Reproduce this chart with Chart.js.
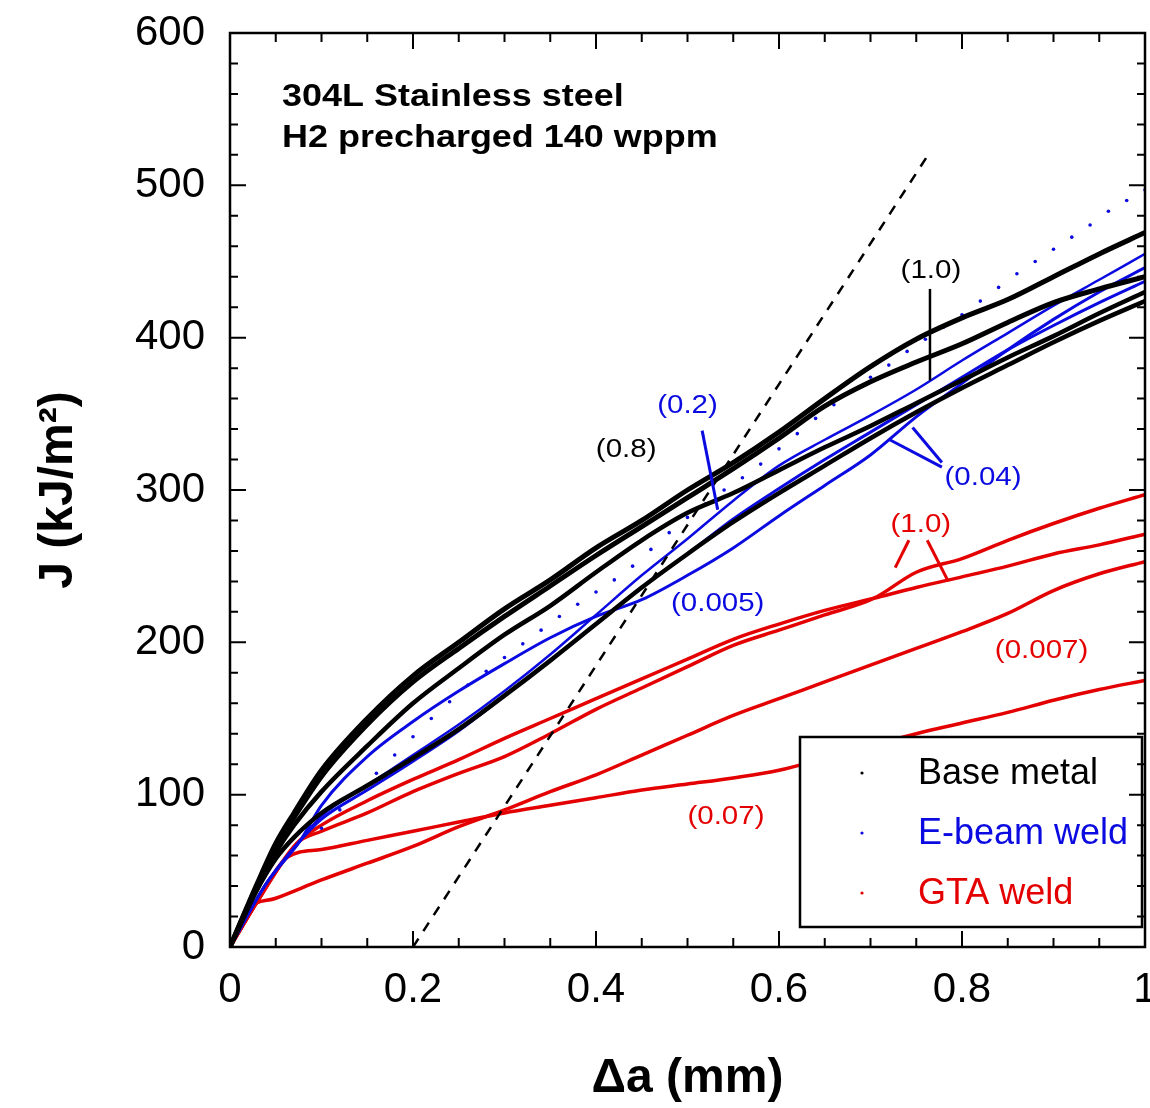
<!DOCTYPE html>
<html>
<head>
<meta charset="utf-8">
<script src="https://cdn.jsdelivr.net/npm/chart.js@4.4.1/dist/chart.umd.min.js"></script>
<style>
  html, body { margin: 0; padding: 0; background: #fff; }
  #wrap { width: 1150px; height: 1108px; }
</style>
</head>
<body>
<div id="wrap"><canvas id="myChart"></canvas></div>
<script>
const FONT = "'Liberation Sans', Arial, Helvetica, sans-serif";
const BLACK = '#000000';
const BLUE = 'rgb(10,10,225)';
const RED = 'rgb(228,0,0)';

// Base metal (black), delta a in mm, J in kJ/m2
const baseDa = [0, 0.03, 0.05, 0.07, 0.1, 0.15, 0.2, 0.25, 0.3, 0.35, 0.4, 0.45, 0.5, 0.55, 0.6, 0.65, 0.7, 0.75, 0.8, 0.85, 0.9, 0.95, 1.0];
const baseJ1 = [0, 42, 68, 88, 116, 150, 178, 200, 222, 241, 262, 280, 300, 318, 338, 360, 381, 399, 413, 425, 440, 455, 469];
const baseJ2 = [0, 41, 66, 85, 112, 146, 174, 196, 217, 237, 257, 276, 295, 314, 334, 355, 371, 384, 396, 410, 423, 432, 440];
const baseJ3 = [0, 40, 62, 80, 102, 132, 160, 183, 205, 224, 246, 267, 285, 298, 313, 328, 342, 357, 372, 387, 401, 416, 430];
const baseJ4 = [0, 38, 58, 72, 88, 106, 124, 143, 165, 188, 212, 236, 258, 279, 298, 316, 334, 351, 367, 382, 397, 411, 424];

// E-beam weld (blue)
const ebDa = [0, 0.04, 0.077, 0.1, 0.15, 0.2, 0.25, 0.3, 0.35, 0.4, 0.45, 0.5, 0.55, 0.6, 0.65, 0.7, 0.75, 0.8, 0.85, 0.9, 0.95, 1.0];
const ebJ005 = [0, 42, 70, 93, 125, 148, 168, 186, 203, 217, 228, 244, 262, 283, 303, 323, 348, 370, 392, 412, 430, 446];
const ebJ04 = [0, 42, 70, 84, 103, 122, 142, 165, 188, 212, 236, 258, 281, 301, 320, 338, 356, 374, 392, 408, 423, 437];
const ebJ2 = [0, 42, 70, 86, 106, 126, 146, 168, 192, 218, 244, 268, 293, 316, 333, 349, 366, 385, 403, 421, 438, 455];

// E-beam dotted fit
const fitDa = [0.10, 0.12, 0.14, 0.16, 0.18, 0.20, 0.22, 0.24, 0.26, 0.28, 0.30, 0.32, 0.34, 0.36, 0.38, 0.40,
  0.42, 0.44, 0.46, 0.48, 0.50, 0.52, 0.54, 0.56, 0.58, 0.60, 0.62, 0.64, 0.66, 0.68, 0.70, 0.72, 0.74,
  0.76, 0.78, 0.80, 0.82, 0.84, 0.86, 0.88, 0.90, 0.92, 0.94, 0.96, 0.98, 1.00];
const fitJ = [78, 90, 102, 114, 126, 138, 150, 161, 172, 181, 190, 199, 208, 217, 225, 233,
  241, 250, 261, 272, 282, 291, 300, 308, 317, 327, 337, 347, 356, 365, 374, 382, 391,
  399, 407, 415, 424, 433, 442, 450, 458, 466, 474, 483, 490, 497];

// GTA weld (red)
const gtaDa = [0, 0.03, 0.073, 0.1, 0.15, 0.2, 0.25, 0.3, 0.35, 0.4, 0.45, 0.5, 0.55, 0.6, 0.65, 0.704, 0.75, 0.8, 0.85, 0.9, 0.95, 1.0];
const gtaJa = [0, 30, 68, 80, 96, 110, 123, 137, 150, 163, 176, 189, 202, 212, 221, 229, 236, 243, 250, 258, 264, 271];
const gtaJb = [0, 30, 68, 76, 88, 102, 114, 125, 140, 156, 170, 184, 198, 208, 218, 229, 246, 255, 267, 278, 288, 297];
const gta007Da = [0, 0.018, 0.05, 0.1, 0.15, 0.2, 0.25, 0.3, 0.35, 0.4, 0.45, 0.5, 0.55, 0.6, 0.65, 0.7, 0.75, 0.8, 0.85, 0.9, 0.95, 1.0];
const gta007J = [0, 24, 32, 44, 55, 66, 79, 90, 102, 113, 126, 139, 152, 163, 174, 185, 196, 207, 219, 234, 245, 253];
const gta07Da = [0, 0.03, 0.063, 0.1, 0.15, 0.2, 0.25, 0.3, 0.35, 0.4, 0.45, 0.5, 0.55, 0.6, 0.65, 0.7, 0.75, 0.8, 0.85, 0.9, 0.95, 1.0];
const gta07J = [0, 30, 59, 64, 70, 76, 82, 88, 93, 98, 103, 107, 111, 116, 124, 132, 140, 147, 154, 162, 169, 175];

// blunting line
const bluntDa = [0.2, 0.763];
const bluntJ = [0, 520];

// labels on the curves
const noteText = ['(1.0)', '(0.8)', '(0.2)', '(0.04)', '(0.005)', '(1.0)', '(0.007)', '(0.07)'];
const noteDa = [0.766, 0.433, 0.500, 0.823, 0.533, 0.755, 0.887, 0.542];
const noteJ = [444, 326, 355, 308, 225, 277, 194, 85];
const noteColor = [BLACK, BLACK, BLUE, BLUE, BLUE, RED, RED, RED];

// leader lines [da1, J1, da2, J2]
const leaders = [
  [0.765, 432, 0.765, 372, BLACK, 2.5],
  [0.516, 339, 0.533, 287, BLUE, 3],
  [0.778, 315, 0.721, 333, BLUE, 3],
  [0.778, 318, 0.746, 341, BLUE, 3],
  [0.742, 267, 0.727, 249, RED, 3],
  [0.762, 267, 0.785, 240, RED, 3]
];

const legendNames = ['Base metal', 'E-beam weld', 'GTA weld'];
const legendColors = [BLACK, BLUE, RED];

function pts(xs, ys) {
  return xs.map((v, i) => ({x: v, y: ys[i]}));
}

function curve(label, xs, ys, color, width) {
  return {
    label: label,
    data: pts(xs, ys),
    showLine: true,
    borderColor: color,
    backgroundColor: color,
    borderWidth: width,
    pointRadius: 0,
    cubicInterpolationMode: 'monotone',
    fill: false
  };
}

function stretchText(ctx, text, x, y, font, color, sx, align) {
  ctx.save();
  ctx.font = font;
  ctx.fillStyle = color;
  ctx.textAlign = align || 'center';
  ctx.textBaseline = 'middle';
  ctx.translate(x, y);
  ctx.scale(sx, 1);
  ctx.fillText(text, 0, 0);
  ctx.restore();
}

// no automatic room for the end labels: the frame sits where the reference has it
function noPad(s) {
  s.paddingTop = 0;
  s.paddingBottom = 0;
  s.paddingLeft = 0;
  s.paddingRight = 0;
}

const notesPlugin = {
  id: 'notes',
  afterDatasetsDraw(chart) {
    const ctx = chart.ctx;
    const xs = chart.scales.x, ys = chart.scales.y;
    const a = chart.chartArea;

    ctx.save();
    ctx.lineCap = 'butt';
    leaders.forEach(l => {
      ctx.strokeStyle = l[4];
      ctx.lineWidth = l[5];
      ctx.beginPath();
      ctx.moveTo(xs.getPixelForValue(l[0]), ys.getPixelForValue(l[1]));
      ctx.lineTo(xs.getPixelForValue(l[2]), ys.getPixelForValue(l[3]));
      ctx.stroke();
    });
    ctx.restore();

    noteText.forEach((t, i) => {
      stretchText(ctx, t, xs.getPixelForValue(noteDa[i]), ys.getPixelForValue(noteJ[i]),
        '25px ' + FONT, noteColor[i], 1.18);
    });

    // sample description
    stretchText(ctx, '304L Stainless steel', a.left + 52, a.top + 64, 'bold 31px ' + FONT, BLACK, 1.16, 'left');
    stretchText(ctx, 'H2 precharged 140 wppm', a.left + 52, a.top + 105, 'bold 31px ' + FONT, BLACK, 1.16, 'left');

    // legend box
    const bx = a.right - 345, by = a.bottom - 210, bw = 342, bh = 190;
    ctx.save();
    ctx.fillStyle = '#fff';
    ctx.fillRect(bx, by, bw, bh);
    ctx.strokeStyle = BLACK;
    ctx.lineWidth = 2.5;
    ctx.strokeRect(bx, by, bw, bh);
    ctx.font = '36px ' + FONT;
    ctx.textBaseline = 'middle';
    ctx.textAlign = 'left';
    legendNames.forEach((n, i) => {
      const cy = by + 36 + i * 60;
      ctx.fillStyle = legendColors[i];
      ctx.beginPath();
      ctx.arc(bx + 62, cy, 1.6, 0, Math.PI * 2);
      ctx.fill();
      ctx.fillText(n, bx + 118, cy + 1);
    });
    ctx.restore();
  }
};

const framePlugin = {
  id: 'frame',
  afterDraw(chart) {
    const ctx = chart.ctx;
    const a = chart.chartArea;
    const xs = chart.scales.x, ys = chart.scales.y;
    ctx.save();
    ctx.strokeStyle = BLACK;
    ctx.lineWidth = 2;
    ctx.beginPath();
    for (let i = 0; i <= 20; i++) {
      const px = xs.getPixelForValue(i * 0.05);
      const len = i % 4 === 0 ? 16 : 9;
      ctx.moveTo(px, a.bottom); ctx.lineTo(px, a.bottom - len);
      ctx.moveTo(px, a.top); ctx.lineTo(px, a.top + len);
    }
    for (let i = 0; i <= 30; i++) {
      const py = ys.getPixelForValue(i * 20);
      const len = i % 5 === 0 ? 16 : 8;
      ctx.moveTo(a.left, py); ctx.lineTo(a.left + len, py);
      ctx.moveTo(a.right, py); ctx.lineTo(a.right - len, py);
    }
    ctx.stroke();
    ctx.lineWidth = 2.5;
    ctx.strokeRect(a.left, a.top, a.right - a.left, a.bottom - a.top);
    ctx.restore();
  }
};

const datasets = [
  {
    label: 'blunting line',
    data: pts(bluntDa, bluntJ),
    showLine: true,
    borderColor: BLACK,
    borderWidth: 2.5,
    borderDash: [10, 9],
    pointRadius: 0,
    fill: false
  },
  curve('Base metal', baseDa, baseJ1, BLACK, 5),
  curve('Base metal 2', baseDa, baseJ2, BLACK, 5),
  curve('Base metal 3', baseDa, baseJ3, BLACK, 4.5),
  curve('Base metal 4', baseDa, baseJ4, BLACK, 4.5),
  curve('E-beam weld', ebDa, ebJ2, BLUE, 2.5),
  curve('E-beam weld 2', ebDa, ebJ04, BLUE, 3),
  curve('E-beam weld 3', ebDa, ebJ005, BLUE, 3),
  {
    label: 'E-beam fit',
    data: pts(fitDa, fitJ),
    showLine: false,
    pointRadius: 1.8,
    pointBorderWidth: 0,
    backgroundColor: BLUE,
    borderColor: BLUE
  },
  curve('GTA weld', gtaDa, gtaJa, RED, 3.5),
  curve('GTA weld 2', gtaDa, gtaJb, RED, 3.5),
  curve('GTA weld 3', gta007Da, gta007J, RED, 3.5),
  curve('GTA weld 4', gta07Da, gta07J, RED, 3.5)
];

const chart = new Chart(document.getElementById('myChart').getContext('2d'), {
  type: 'scatter',
  data: { datasets: datasets },
  options: {
    responsive: true,
    maintainAspectRatio: false,
    animation: false,
    devicePixelRatio: 1,
    layout: {
      autoPadding: false,
      padding: { left: 0, right: 5, top: 33, bottom: 0 }
    },
    plugins: {
      legend: { display: false },
      tooltip: { enabled: false }
    },
    scales: {
      x: {
        type: 'linear',
        min: 0,
        max: 1,
        grid: { display: false, drawTicks: false },
        border: { display: false },
        ticks: {
          stepSize: 0.2,
          padding: 18,
          maxRotation: 0,
          color: BLACK,
          font: { family: FONT, size: 42 },
          callback: v => String(Number(v.toFixed(1)))
        },
        title: {
          display: true,
          text: 'Δa (mm)',
          color: BLACK,
          font: { family: FONT, size: 48, weight: 'bold' },
          padding: { top: 0, bottom: 0 }
        },
        afterFit: s => { s.height = 161; noPad(s); }
      },
      y: {
        type: 'linear',
        min: 0,
        max: 600,
        grid: { display: false, drawTicks: false },
        border: { display: false },
        ticks: {
          stepSize: 100,
          padding: 25,
          color: BLACK,
          font: { family: FONT, size: 42 }
        },
        title: {
          display: true,
          text: 'J (kJ/m²)',
          color: BLACK,
          font: { family: FONT, size: 48, weight: 'bold' },
          padding: { top: 30, bottom: 0 }
        },
        afterFit: s => { s.width = 230; noPad(s); }
      }
    }
  },
  plugins: [notesPlugin, framePlugin]
});
</script>
</body>
</html>
